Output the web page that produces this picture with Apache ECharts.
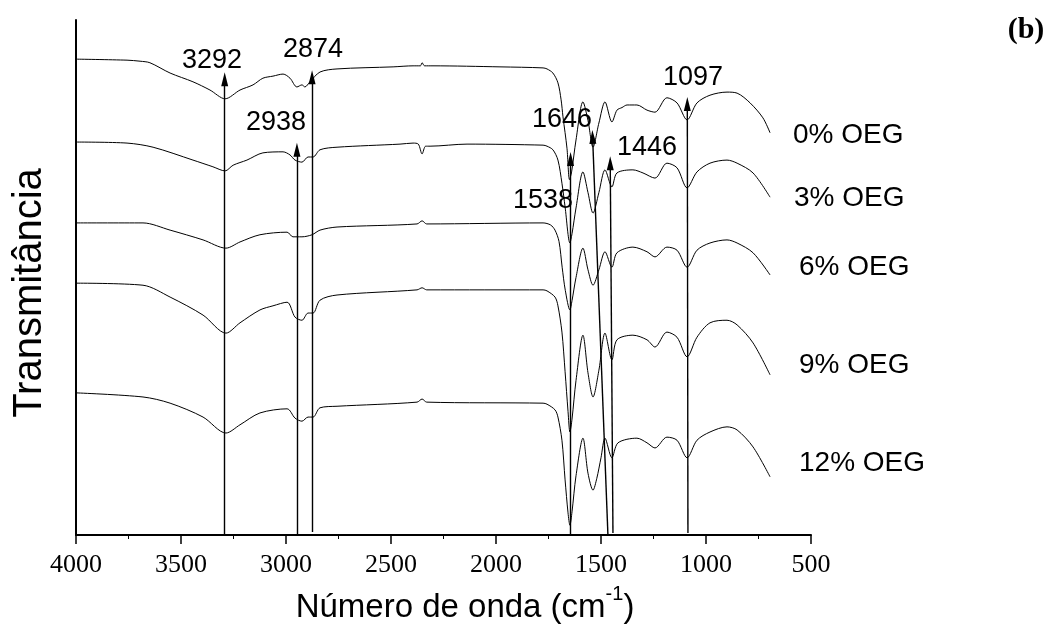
<!DOCTYPE html>
<html><head><meta charset="utf-8">
<script src="https://cdn.jsdelivr.net/npm/echarts@6/dist/echarts.min.js"></script>
<style>html,body{margin:0;padding:0;background:#fff}#c{width:1049px;height:634px}</style>
</head><body><div id="c"></div>
<script>
// ---- data (wavenumber cm^-1, transmittance a.u., stacked) ----
const xTicks = [4000, 3500, 3000, 2500, 2000, 1500, 1000, 500];
const seriesNames = ['0% OEG', '3% OEG', '6% OEG', '9% OEG', '12% OEG'];

const oeg0 = [[4000,92.4],[3757,92.2],[3695,92.0],[3648,91.7],[3552,89.7],[3443,88.0],[3362,86.4],[3290,84.7],[3219,86.4],[3157,87.4],[3110,88.7],[3062,89.1],[3014,89.5],[2981,88.7],[2948,87.0],[2924,87.4],[2910,87.0],[2886,88.0],[2838,89.9],[2757,90.5],[2490,90.9],[2395,91.1],[2360,91.1],[2352,91.7],[2340,91.1],[2300,91.1],[1981,90.9],[1776,90.7],[1757,90.5],[1729,89.7],[1705,87.8],[1690,84.5],[1681,81.2],[1662,75.1],[1650,69.0],[1640,70.5],[1619,76.7],[1586,84.1],[1562,80.5],[1538,75.3],[1510,80.0],[1481,84.1],[1448,80.2],[1424,82.5],[1400,83.0],[1376,83.5],[1329,83.5],[1281,82.5],[1243,82.1],[1186,84.9],[1138,83.9],[1090,80.6],[1043,83.9],[981,85.4],[900,86.0],[852,85.8],[790,83.9],[729,81.0],[695,78.1]];

const oeg3 = [[4000,76.3],[3757,76.1],[3633,75.3],[3443,72.8],[3348,71.5],[3290,70.7],[3252,71.8],[3186,72.8],[3110,74.2],[3014,74.4],[2981,73.8],[2957,72.8],[2924,72.4],[2895,73.4],[2871,73.4],[2838,74.8],[2757,75.3],[2457,75.9],[2395,76.1],[2370,75.9],[2352,74.0],[2335,75.5],[2314,75.5],[2138,75.9],[1776,75.7],[1757,75.5],[1729,74.8],[1705,72.8],[1686,68.3],[1671,63.7],[1648,56.7],[1638,58.5],[1619,63.5],[1586,70.5],[1562,66.5],[1538,62.5],[1510,66.5],[1481,70.9],[1448,67.6],[1424,70.3],[1348,70.9],[1300,70.3],[1243,69.3],[1186,72.2],[1138,71.3],[1090,67.4],[1043,70.5],[981,72.2],[900,72.8],[852,72.2],[776,70.3],[695,65.6]];

const oeg6 = [[4000,60.6],[3681,60.6],[3552,59.2],[3395,57.3],[3286,55.7],[3219,56.9],[3124,58.3],[2995,58.8],[2967,57.9],[2924,57.9],[2876,58.3],[2838,59.2],[2757,59.8],[2376,60.4],[2352,61.0],[2330,60.4],[1776,60.6],[1740,60.2],[1719,59.2],[1700,57.0],[1685,52.0],[1670,47.5],[1648,43.7],[1638,45.5],[1619,50.0],[1586,55.7],[1562,51.5],[1538,48.5],[1510,51.5],[1481,55.0],[1448,52.0],[1424,54.8],[1348,55.9],[1281,55.0],[1243,54.0],[1186,55.9],[1138,55.3],[1090,52.0],[1043,55.3],[981,56.7],[900,57.3],[852,56.7],[776,54.8],[695,50.5]];

const oeg9 = [[4000,48.9],[3681,48.5],[3552,46.2],[3395,42.7],[3286,39.2],[3219,41.2],[3124,43.7],[3062,44.5],[2995,45.2],[2957,42.3],[2924,41.7],[2895,43.1],[2871,43.1],[2838,45.6],[2757,46.6],[2376,47.6],[2352,48.0],[2330,47.6],[1776,47.6],[1757,47.4],[1719,46.2],[1705,44.5],[1686,39.4],[1671,31.7],[1657,24.0],[1648,20.0],[1638,22.5],[1619,30.0],[1586,38.8],[1562,31.5],[1538,26.8],[1510,32.0],[1481,39.2],[1448,34.0],[1424,37.9],[1348,38.8],[1281,37.9],[1243,36.5],[1186,39.4],[1138,38.4],[1090,34.6],[1043,38.4],[981,41.2],[900,41.7],[852,40.8],[776,37.3],[695,31.1]];

const oeg12 = [[4000,27.6],[3681,26.8],[3552,25.6],[3395,22.9],[3286,19.8],[3219,21.4],[3124,23.7],[2995,24.5],[2957,22.7],[2924,22.1],[2895,22.9],[2871,22.9],[2838,24.7],[2757,25.0],[2376,25.8],[2352,26.4],[2330,25.8],[1776,25.6],[1757,25.4],[1719,24.3],[1705,22.9],[1686,18.4],[1671,10.7],[1657,4.3],[1648,1.9],[1638,4.5],[1619,11.5],[1586,18.8],[1562,12.0],[1538,8.7],[1520,11.0],[1500,15.0],[1481,18.8],[1448,15.0],[1419,17.9],[1329,18.8],[1281,17.9],[1243,16.9],[1186,19.0],[1138,18.4],[1090,15.0],[1043,18.4],[981,20.0],[900,21.0],[852,20.4],[776,17.1],[695,11.3]];

// peak annotations
const peakNames   = ['3292', '2938', '2874', '1646', '1538', '1446', '1097'];
const arrowBaseX  = [3292, 2948, 2876, 1645, 1467, 1443, 1086];
const arrowBaseY  = [0, 0, 0.6, 0, 0, 0.4, 0.4];
const arrowHeadX  = [3292, 2948, 2876, 1645, 1540, 1456, 1089];
const arrowHeadY  = [88.5, 74.8, 88.9, 73.0, 77.3, 72.2, 83.7];
const peakLabelX  = [3352, 3048, 2871, 1686, 1776, 1281, 1062];
const peakLabelY  = [92.2, 80.0, 94.2, 80.6, 65.0, 75.3, 88.9];

// ---- chart ----
const chart = echarts.init(document.getElementById('c'), null, { renderer: 'canvas' });
const curves = [oeg0, oeg3, oeg6, oeg9, oeg12];

const series = curves.map((d, i) => ({
  type: 'line', name: seriesNames[i], data: d,
  showSymbol: false, symbol: 'none', smooth: 0.3,
  lineStyle: { color: '#000', width: 1 }, silent: true, z: 2
}));

series.push({
  type: 'line', data: [], silent: true,
  markLine: {
    silent: true, animation: false,
    symbol: ['none', 'triangle'], symbolSize: [7, 14],
    lineStyle: { color: '#000', width: 1.4, type: 'solid' },
    itemStyle: { color: '#000' },
    label: { show: false },
    emphasis: { disabled: true },
    data: peakNames.map((n, i) => [
      { coord: [arrowBaseX[i], arrowBaseY[i]] },
      { coord: [arrowHeadX[i], arrowHeadY[i]] }
    ])
  }
});

series.push({
  type: 'scatter', silent: true, symbolSize: 0, z: 5,
  itemStyle: { opacity: 1, color: '#000' },
  data: peakNames.map((n, i) => ({ name: n, value: [peakLabelX[i], peakLabelY[i]] })),
  label: {
    show: true, position: 'inside', formatter: p => p.name,
    color: '#000', opacity: 1, fontSize: 27, fontFamily: 'Liberation Sans'
  }
});

const nameLabelPos = [[793, 135], [794, 198], [799, 267], [799, 365], [799, 463]];
const graphics = seriesNames.map((n, i) => ({
  type: 'text', x: nameLabelPos[i][0], y: nameLabelPos[i][1],
  style: { text: n, fill: '#000', fontSize: 28, fontFamily: 'Liberation Sans', align: 'left', verticalAlign: 'middle' }
}));
graphics.push({
  type: 'text', x: 1026, y: 30,
  style: { text: '(b)', fill: '#000', fontSize: 30, fontWeight: 'bold', fontFamily: 'Liberation Serif', align: 'center', verticalAlign: 'middle' }
});
graphics.push({
  type: 'text', x: 30, y: 293, rotation: Math.PI / 2,
  style: { text: 'Transmitância', fill: '#000', fontSize: 40, fontFamily: 'Liberation Sans', align: 'center', verticalAlign: 'middle' }
});
graphics.push({
  type: 'text', x: 465, y: 604,
  style: {
    text: '{a|Número de onda (cm}{s|-1}{a|)}', fill: '#000', align: 'center', verticalAlign: 'middle',
    rich: {
      a: { fontSize: 33, fontFamily: 'Liberation Sans', color: '#000', verticalAlign: 'bottom', lineHeight: 40 },
      s: { fontSize: 20, fontFamily: 'Liberation Sans', color: '#000', verticalAlign: 'top', lineHeight: 40 }
    }
  }
});

chart.setOption({
  animation: false,
  backgroundColor: '#fff',
  grid: { left: 76, right: 238, top: 20, bottom: 99, containLabel: false },
  xAxis: {
    type: 'value', inverse: true, min: 500, max: 4000, interval: 500,
    axisLine: { show: true, onZero: false, lineStyle: { color: '#000', width: 2 } },
    axisTick: { show: true, length: 9, lineStyle: { color: '#000', width: 1.5 } },
    minorTick: { show: true, splitNumber: 2, length: 4, lineStyle: { color: '#000', width: 1 } },
    axisLabel: { color: '#000', fontSize: 26, fontFamily: 'Liberation Serif', margin: 17, showMinLabel: true, showMaxLabel: true, formatter: v => String(v) },
    splitLine: { show: false }
  },
  yAxis: {
    type: 'value', min: 0, max: 100,
    axisLine: { show: true, lineStyle: { color: '#000', width: 2 } },
    axisTick: { show: false }, axisLabel: { show: false }, splitLine: { show: false }
  },
  series: series,
  graphic: graphics
});
</script>
</body></html>
